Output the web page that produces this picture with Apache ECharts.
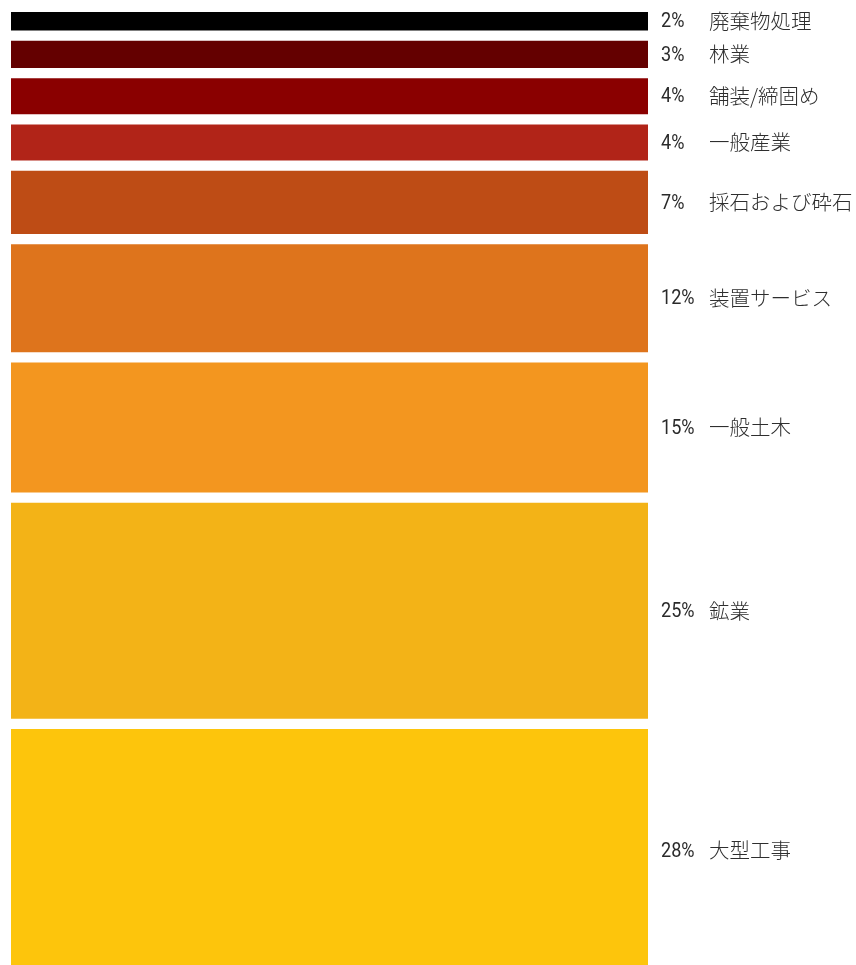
<!DOCTYPE html>
<html>
<head>
<meta charset="utf-8">
<script src="https://cdn.jsdelivr.net/npm/echarts@6/dist/echarts.min.js"></script>
<style>
html,body{margin:0;padding:0;background:#fff;}
#chart{width:856px;height:965px;}
</style>
</head>
<body>
<div id="chart"></div>
<script>
// Data (top to bottom)
const categories = ['廃棄物処理', '林業', '舗装/締固め', '一般産業', '採石および砕石', '装置サービス', '一般土木', '鉱業', '大型工事'];
const values = [2.1, 3.1, 4.1, 4.1, 7.2, 12.3, 14.8, 24.6, 27.7];
const percentLabels = ['2%', '3%', '4%', '4%', '7%', '12%', '15%', '25%', '28%'];
const colors = ['#000000', '#640000', '#8a0000', '#b12418', '#be4c15', '#de741c', '#f3961f', '#f3b317', '#fdc50c'];

const gap = 1.17; // gap between bands, in value units
const total = values.reduce((a, b) => a + b, 0);
const axisMax = total + gap * (values.length - 1);

const data = [];
let cum = 0;
values.forEach((v, i) => {
  data.push([cum, v, i]);
  cum += v + gap;
});

const chart = echarts.init(document.getElementById('chart'), null, {renderer: 'canvas'});
chart.setOption({
  animation: false,
  backgroundColor: '#ffffff',
  grid: {left: 11, top: 12, width: 637, height: axisMax * 8.78, outerBoundsMode: 'none', containLabel: false},
  xAxis: {type: 'value', min: 0, max: 1, show: false},
  yAxis: {type: 'value', min: 0, max: axisMax, inverse: true, show: false},
  series: [{
    type: 'custom',
    clip: false,
    data: data,
    renderItem: function (params, api) {
      const s = api.value(0), v = api.value(1), i = api.value(2);
      const p0 = api.coord([0, s]);
      const p1 = api.coord([1, s + v]);
      const cy = (p0[1] + p1[1]) / 2;
      return {
        type: 'group',
        children: [
          {
            type: 'rect',
            shape: {x: p0[0], y: p0[1], width: p1[0] - p0[0], height: p1[1] - p0[1]},
            style: {fill: colors[i]}
          },
          {
            type: 'text',
            x: p1[0] + 13,
            y: cy + 1,
            scaleX: 0.86,
            style: {
              text: percentLabels[i],
              align: 'left',
              verticalAlign: 'middle',
              fontFamily: 'Roboto, sans-serif',
              fontSize: 21,
              fontWeight: 400,
              fill: '#2a2a2a'
            }
          },
          {
            type: 'text',
            x: p1[0] + 61,
            y: cy,
            style: {
              text: categories[i],
              align: 'left',
              verticalAlign: 'middle',
              fontFamily: '"Noto Sans CJK JP", sans-serif',
              fontSize: 20.5,
              fontWeight: 300,
              fill: '#2e2e2e'
            }
          }
        ]
      };
    }
  }]
});
</script>
</body>
</html>
